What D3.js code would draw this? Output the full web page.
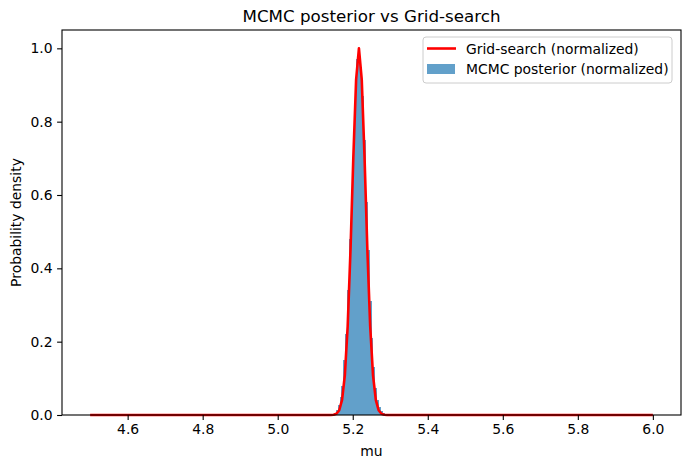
<!DOCTYPE html>
<html>
<head>
<meta charset="utf-8">
<script src="https://cdn.jsdelivr.net/npm/d3@7"></script>
<style>
  body { margin: 0; background: #fff; }
  svg { font-family: "DejaVu Sans", sans-serif; }
</style>
</head>
<body>
<svg id="chart" width="691" height="468"></svg>
<script>
// histogram bins (left edges) and normalized heights
const binWidth = 0.005;
const binStarts = [5.140, 5.145, 5.150, 5.155, 5.160, 5.165, 5.170, 5.175, 5.180, 5.185,
                   5.190, 5.195, 5.200, 5.205, 5.210, 5.215, 5.220, 5.225, 5.230, 5.235,
                   5.240, 5.245, 5.250, 5.255, 5.260, 5.265, 5.270, 5.275, 5.280, 5.285, 5.290];
const mcmcHeights = [0.001, 0.003, 0.006, 0.013, 0.027, 0.05, 0.08, 0.15, 0.22, 0.34,
                     0.48, 0.61, 0.78, 0.88, 0.97, 1.0, 0.95, 0.87, 0.75, 0.58,
                     0.45, 0.31, 0.21, 0.13, 0.075, 0.04, 0.022, 0.011, 0.005, 0.002, 0.001];

// grid-search curve points (normalized)
const gridMu = [4.5, 5.1340, 5.1415, 5.1490, 5.1565, 5.1640, 5.1715, 5.1790, 5.1865, 5.1940,
                5.2015, 5.2090, 5.2165, 5.2240, 5.2315, 5.2390, 5.2465, 5.2540, 5.2615, 5.2690,
                5.2765, 5.2840, 5.2915, 5.2990, 5.3065, 5.3140, 5.3215, 5.3290, 6.0];
const gridPost = [0, 0, 0.0001, 0.0008, 0.0034, 0.013, 0.041, 0.109, 0.242, 0.45,
                  0.701, 0.915, 1.0, 0.915, 0.701, 0.45, 0.242, 0.109, 0.041, 0.013,
                  0.0034, 0.0008, 0.0001, 0, 0, 0, 0, 0, 0];

const xTicks = [4.6, 4.8, 5.0, 5.2, 5.4, 5.6, 5.8, 6.0];
const yTicks = [0.0, 0.2, 0.4, 0.6, 0.8, 1.0];

const margin = {top: 30, right: 10, bottom: 53, left: 62};
const width = 691 - margin.left - margin.right,
      height = 468 - margin.top - margin.bottom;

const svg = d3.select('#chart');
const chart = svg.append('g')
  .attr('transform', `translate(${margin.left},${margin.top})`);

const xScale = d3.scaleLinear().domain([4.425, 6.075]).range([0, width]);
const yScale = d3.scaleLinear().domain([0, 1.05]).range([height, 0]);

// bars
chart.append('g').selectAll('rect')
  .data(binStarts)
  .enter().append('rect')
  .attr('x', d => xScale(d))
  .attr('width', d => xScale(d + binWidth) - xScale(d))
  .attr('y', (d, i) => yScale(mcmcHeights[i]))
  .attr('height', (d, i) => height - yScale(mcmcHeights[i]))
  .attr('fill', '#1f77b4')
  .attr('fill-opacity', 0.7)
  .attr('shape-rendering', 'crispEdges');

// grid-search line
const line = d3.line()
  .x(d => xScale(d[0]))
  .y(d => yScale(d[1]));

chart.append('path')
  .datum(d3.zip(gridMu, gridPost))
  .attr('d', line)
  .attr('fill', 'none')
  .attr('stroke', 'red')
  .attr('stroke-width', 2.6)
  .attr('stroke-linejoin', 'round');

// axes
const xAxis = d3.axisBottom(xScale).tickValues(xTicks).tickFormat(d3.format('.1f'))
  .tickSizeOuter(0).tickSize(4.9).tickPadding(4.5);
const yAxis = d3.axisLeft(yScale).tickValues(yTicks).tickFormat(d3.format('.1f'))
  .tickSizeOuter(0).tickSize(4.9).tickPadding(4.5);

const gx = chart.append('g').attr('transform', `translate(0,${height})`).call(xAxis);
const gy = chart.append('g').call(yAxis);
[gx, gy].forEach(g => {
  g.select('.domain').remove();
  g.selectAll('text').attr('font-size', 13.9).attr('fill', '#000')
    .attr('font-family', '"DejaVu Sans", sans-serif');
  g.selectAll('line').attr('stroke', '#000').attr('stroke-width', 1.1);
});

// frame
chart.append('rect')
  .attr('width', width).attr('height', height)
  .attr('fill', 'none').attr('stroke', '#000').attr('stroke-width', 1.1);

// labels
svg.append('text')
  .attr('x', margin.left + width / 2).attr('y', 22)
  .attr('text-anchor', 'middle').attr('font-size', 16.7)
  .text('MCMC posterior vs Grid-search');

svg.append('text')
  .attr('x', margin.left + width / 2).attr('y', 456)
  .attr('text-anchor', 'middle').attr('font-size', 13.9)
  .text('mu');

svg.append('text')
  .attr('transform', `translate(21,${margin.top + height / 2}) rotate(-90)`)
  .attr('text-anchor', 'middle').attr('font-size', 13.9)
  .text('Probability density');

// legend
const legend = svg.append('g').attr('transform', 'translate(423,37)');
legend.append('rect')
  .attr('width', 249).attr('height', 46).attr('rx', 3)
  .attr('fill', '#fff').attr('fill-opacity', 0.8)
  .attr('stroke', '#ccc').attr('stroke-width', 1);
legend.append('line')
  .attr('x1', 4).attr('x2', 33).attr('y1', 11.5).attr('y2', 11.5)
  .attr('stroke', 'red').attr('stroke-width', 2.6);
legend.append('rect')
  .attr('x', 4).attr('y', 27).attr('width', 28).attr('height', 10)
  .attr('fill', '#1f77b4').attr('fill-opacity', 0.7);
legend.append('text').attr('x', 43).attr('y', 16.5).attr('font-size', 13.9)
  .text('Grid-search (normalized)');
legend.append('text').attr('x', 43).attr('y', 37).attr('font-size', 13.9)
  .text('MCMC posterior (normalized)');
</script>
</body>
</html>
